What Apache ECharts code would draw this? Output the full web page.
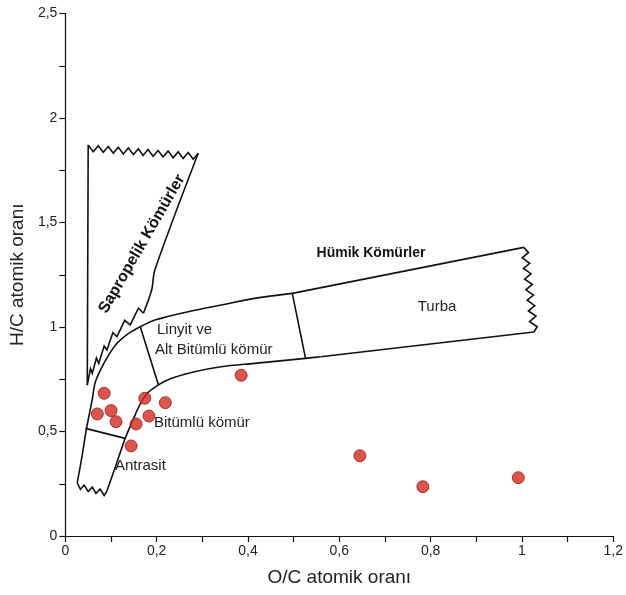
<!DOCTYPE html>
<html>
<head>
<meta charset="utf-8">
<script src="https://cdn.jsdelivr.net/npm/echarts@6/dist/echarts.min.js"></script>
<style>
html,body{margin:0;padding:0;background:#fff;}
#main{width:626px;height:595px;}
</style>
</head>
<body>
<div id="main"></div>
<script>
// ---- Axis ticks ----
const xTicks = [0, 0.2, 0.4, 0.6, 0.8, 1, 1.2];
const yTicks = [0, 0.5, 1, 1.5, 2, 2.5];

// ---- Sample points (O/C, H/C) ----
const sampleOC = [0.085, 0.070, 0.100, 0.111, 0.174, 0.219, 0.183, 0.155, 0.144, 0.385, 0.645, 0.783, 0.992];
const sampleHC = [0.683, 0.584, 0.600, 0.547, 0.659, 0.638, 0.574, 0.536, 0.431, 0.769, 0.384, 0.236, 0.279];

// ---- Sapropelic coal field outline ----
const sapropelTop = [[0.050,1.871],[0.061,1.839],[0.072,1.867],[0.083,1.836],[0.094,1.864],[0.105,1.832],[0.116,1.860],[0.127,1.828],[0.138,1.856],[0.149,1.825],[0.160,1.853],[0.170,1.821],[0.181,1.849],[0.192,1.817],[0.203,1.845],[0.214,1.814],[0.225,1.842],[0.236,1.810],[0.247,1.838],[0.258,1.806],[0.269,1.835],[0.280,1.803],[0.291,1.831]];
const sapropelRight = [[0.291,1.831],[0.196,1.273],[0.189,1.177],[0.171,1.066]];
const sapropelBottom = [[0.171,1.066],[0.160,1.090],[0.142,1.010],[0.130,1.032],[0.113,0.954],[0.104,0.973],[0.091,0.890],[0.085,0.909],[0.073,0.826],[0.068,0.852],[0.059,0.778],[0.055,0.801],[0.048,0.722]];
const sapropelLeft = [[0.048,0.722],[0.050,1.871]];

// ---- Humic coal band outline ----
const humicUpperCurve = [[0.026,0.254],[0.037,0.388],[0.0457,0.507],[0.0587,0.651],[0.065,0.732],[0.0767,0.794],[0.0935,0.861],[0.113,0.922],[0.137,0.967],[0.164,1.001],[0.196,1.033],[0.222,1.049],[0.269,1.073],[0.341,1.105],[0.414,1.137],[0.497,1.161]];
const humicUpperLine = [[0.497,1.161],[1.004,1.381]];
const humicRight = [[1.004,1.381],[1.0143,1.356],[1.0005,1.331],[1.0171,1.305],[1.0033,1.280],[1.0198,1.255],[1.0060,1.229],[1.0226,1.204],[1.0087,1.178],[1.0253,1.153],[1.0114,1.128],[1.0280,1.102],[1.0141,1.077],[1.0307,1.052],[1.0168,1.026],[1.0335,1.001],[1.026,0.976]];
const humicLowerLine = [[1.026,0.976],[0.559,0.858]];
const humicLowerCurve = [[0.559,0.858],[0.526,0.850],[0.414,0.826],[0.341,0.810],[0.283,0.786],[0.233,0.755],[0.2065,0.727],[0.180,0.684],[0.163,0.627],[0.148,0.555],[0.131,0.467],[0.111,0.340],[0.091,0.215]];
const humicBottom = [[0.091,0.215],[0.085,0.194],[0.076,0.225],[0.067,0.204],[0.059,0.234],[0.050,0.213],[0.041,0.244],[0.033,0.223],[0.026,0.254]];

// ---- Rank dividers ----
const divAntrasit = [[0.044,0.515],[0.131,0.467]];
const divLinyit = [[0.164,1.001],[0.204,0.722]];
const divTurba = [[0.497,1.161],[0.526,0.850]];

const FONT = '"Liberation Sans", Arial, sans-serif';
const chart = echarts.init(document.getElementById('main'), null, {renderer:'canvas'});

function fmt(v){ return String(Math.round(v*10)/10).replace('.', ','); }
function lineSeries(data, smooth){
  return {type:'line', data:data, showSymbol:false, symbol:'none', silent:true, animation:false,
    smooth: smooth || false,
    lineStyle:{color:'#111', width:1.6, join:'miter'}, z:2};
}

const samples = sampleOC.map((x,i)=>[x, sampleHC[i]]);

chart.setOption({
  animation:false,
  backgroundColor:'#fff',
  grid:{left:63, right:11, top:13.5, bottom:59, containLabel:false},
  xAxis:{type:'value', min:0, max:1.2, interval:0.1,
    name:'O/C atomik oranı', nameLocation:'middle', nameGap:32,
    nameTextStyle:{fontFamily:FONT, fontSize:19, color:'#222'},
    axisLine:{show:true, onZero:false, lineStyle:{color:'#111', width:1.2}},
    axisTick:{show:true, inside:false, length:6, lineStyle:{color:'#111', width:1.2}},
    axisLabel:{fontFamily:FONT, fontSize:14, color:'#222', margin:8,
      formatter:function(v){ const r=Math.round(v*10)/10; return xTicks.some(t=>Math.abs(t-r)<1e-6) ? fmt(r) : ''; }},
    splitLine:{show:false}},
  yAxis:{type:'value', min:0, max:2.5, interval:0.25,
    name:'H/C atomik oranı', nameLocation:'middle', nameGap:38,
    nameTextStyle:{fontFamily:FONT, fontSize:19, color:'#222'},
    axisLine:{show:true, onZero:false, lineStyle:{color:'#111', width:1.2}},
    axisTick:{show:true, inside:false, length:6, lineStyle:{color:'#111', width:1.2}},
    axisLabel:{fontFamily:FONT, fontSize:14, color:'#222', margin:8,
      formatter:function(v){ const r=Math.round(v*100)/100; return yTicks.some(t=>Math.abs(t-r)<1e-6) ? fmt(r) : ''; }},
    splitLine:{show:false}},
  series:[
    lineSeries(sapropelTop),
    lineSeries(sapropelRight, 0.3),
    lineSeries(sapropelBottom),
    lineSeries(sapropelLeft),
    lineSeries(humicUpperCurve, 0.3),
    lineSeries(humicUpperLine),
    lineSeries(humicRight),
    lineSeries(humicLowerLine),
    lineSeries(humicLowerCurve, 0.3),
    lineSeries(humicBottom),
    lineSeries(divAntrasit),
    lineSeries(divLinyit),
    lineSeries(divTurba),
    {type:'scatter', data:samples, symbol:'circle', symbolSize:12, z:5, silent:true,
      itemStyle:{color:'#d3291f', borderColor:'#8e1c14', borderWidth:1}}
  ],
  graphic:[
    {type:'text', x:142, y:244, rotation:60*Math.PI/180, z:10,
      style:{text:'Sapropelik Kömürler', font:'bold 16px '+FONT, fill:'#111', align:'center', verticalAlign:'middle'}},
    {type:'text', x:371, y:253, z:10,
      style:{text:'Hümik Kömürler', font:'bold 14px '+FONT, fill:'#111', align:'center', verticalAlign:'middle'}},
    {type:'text', x:437, y:307, z:10,
      style:{text:'Turba', font:'15px '+FONT, fill:'#222', align:'center', verticalAlign:'middle'}},
    {type:'text', x:157, y:330, z:10,
      style:{text:'Linyit ve', font:'15px '+FONT, fill:'#222', align:'left', verticalAlign:'middle'}},
    {type:'text', x:155, y:350, z:10,
      style:{text:'Alt Bitümlü kömür', font:'15px '+FONT, fill:'#222', align:'left', verticalAlign:'middle'}},
    {type:'text', x:154, y:423, z:10,
      style:{text:'Bitümlü kömür', font:'15px '+FONT, fill:'#222', align:'left', verticalAlign:'middle'}},
    {type:'text', x:115, y:466, z:10,
      style:{text:'Antrasit', font:'15px '+FONT, fill:'#222', align:'left', verticalAlign:'middle'}}
  ]
});
</script>
</body>
</html>
